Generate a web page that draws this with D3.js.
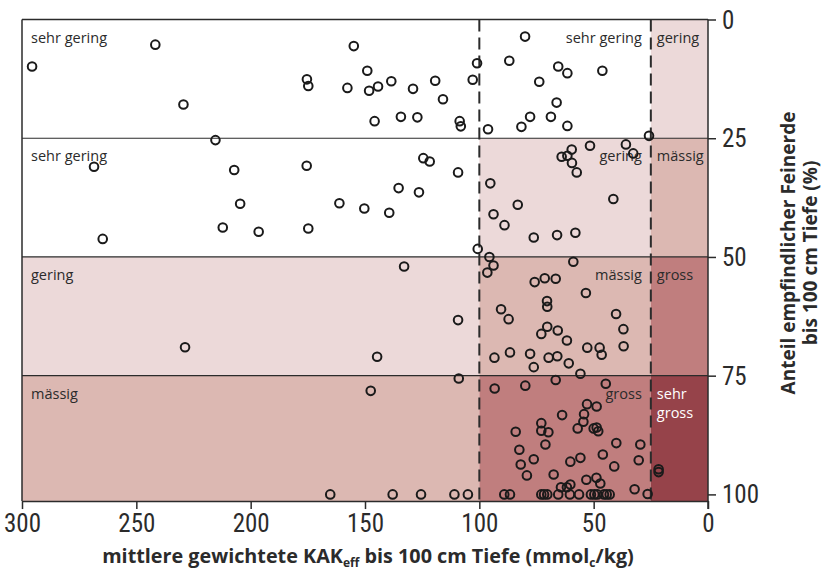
<!DOCTYPE html>
<html><head><meta charset="utf-8">
<script src="https://cdn.jsdelivr.net/npm/d3@7"></script>
<style>
body{margin:0;background:#fff;}
svg{display:block;}
</style></head>
<body>
<svg id="chart" width="822" height="571"></svg>
<script>
// ---- data ----
const ratings = ["sehr gering","gering","mässig","gross","sehr gross"];
const ratingColors = ["#ffffff","#ecd9d9","#dcb8b2","#c07e7e","#96434a"];
const kakBreaks = [300,100,25,0];         // KAK classes (x)
const feinBreaks = [0,25,50,75,101.4];    // Feinerde classes (y)
const xTicks = [300,250,200,150,100,50,0];
const yTicks = [0,25,50,75,100];

const kak = [
295.6,241.7,229.4,215.4,154.9,175.4,174.8,157.7,149.0,148.2,144.3,138.5,129.0,119.3,115.9,102.9,101.0,86.9,145.8,134.3,127.1,108.6,108.1,96.2,81.6,80.0,65.5,61.5,46.2,73.8,66.2,77.8,68.7,61.5,25.8,
268.5,207.2,204.6,212.2,196.5,264.7,175.5,124.5,121.7,109.3,135.3,126.4,161.2,150.3,139.4,174.8,95.2,83.2,93.8,89.0,100.7,95.6,59.6,64.0,61.5,59.5,57.4,51.6,35.9,32.7,76.2,66.0,58.0,41.4,
58.9,93.8,96.5,132.9,109.3,144.7,90.5,87.2,86.6,93.4,228.7,75.8,71.4,66.6,53.4,70.4,70.3,40.2,37.0,36.9,70.3,72.9,65.7,61.7,52.8,47.4,46.5,77.8,69.7,65.9,60.9,76.2,55.8,
109.0,147.5,93.3,79.9,66.6,44.7,52.9,48.7,63.8,54.2,54.5,72.9,72.9,69.8,57.0,50.0,48.7,48.0,84.1,71.1,82.5,40.1,29.6,46.0,55.8,60.2,76.2,81.9,30.3,41.0,79.2,67.5,53.2,48.8,47.1,60.2,61.7,64.3,32.1,26.4,21.6,21.6,
165.2,137.9,125.5,110.9,105.0,89.1,86.6,72.9,71.7,70.3,65.5,60.4,56.4,51.2,49.7,48.4,45.5,44.3,43.0
];
const feinerde = [
9.9,5.3,17.9,25.4,5.6,12.6,14.0,14.4,10.8,15.0,14.1,13.0,14.6,12.9,16.8,12.7,9.2,8.7,21.4,20.5,20.6,21.4,22.5,23.1,22.6,3.6,9.9,11.3,10.8,13.1,17.5,20.5,20.5,22.4,24.5,
31.0,31.7,38.8,43.8,44.7,46.2,30.8,29.2,29.9,32.2,35.5,36.4,38.7,39.8,40.7,44.0,34.5,39.0,41.0,43.3,48.3,50.0,27.4,28.9,28.7,30.2,32.2,26.6,26.3,28.2,45.9,45.4,44.9,37.8,
51.0,51.8,53.3,52.0,63.3,71.0,61.0,63.1,70.1,71.2,69.0,55.3,54.5,54.6,57.6,59.3,60.5,62.0,65.2,68.8,64.7,66.2,65.5,67.6,69.1,69.1,70.6,70.4,71.2,70.9,72.4,73.2,74.6,
75.6,78.2,77.7,77.1,75.9,76.7,81.0,81.5,83.3,83.1,84.7,85.0,86.6,86.9,86.1,86.1,85.9,86.7,86.8,89.5,90.6,89.2,89.5,91.6,92.3,93.1,92.6,93.7,92.8,94.1,96.0,95.8,96.9,96.5,97.7,97.9,98.5,98.5,98.9,99.9,94.7,95.3,
100,100,100,100,100,100,100,100,100,100,100,100,100,100,100,100,100,100,100
];

// ---- chart ----
const svg = d3.select("#chart");
const x = d3.scaleLinear().domain([300,0]).range([22,708]);
const y = d3.scaleLinear().domain([0,100]).range([19.5,494.4]);
const ink = "#2b2b2b";
const labelFont = "'Open Sans', 'Noto Sans', sans-serif";
const tickFont = "'Liberation Sans Narrow', 'Roboto Condensed', 'Liberation Sans', sans-serif";

// class cells
const cells = [];
for (let i = 0; i < 4; i++) {
  for (let j = 0; j < 3; j++) {
    const level = j === 0 ? Math.max(0, i - 1) : (j === 1 ? i : i + 1);
    cells.push({i, j, level});
  }
}
svg.append("g").selectAll("rect").data(cells).join("rect")
  .attr("x", d => x(kakBreaks[d.j]))
  .attr("width", d => x(kakBreaks[d.j+1]) - x(kakBreaks[d.j]))
  .attr("y", d => y(feinBreaks[d.i]))
  .attr("height", d => y(feinBreaks[d.i+1]) - y(feinBreaks[d.i]))
  .attr("fill", d => ratingColors[d.level]);

// horizontal class lines
svg.append("g").selectAll("line").data([25,50,75]).join("line")
  .attr("x1", x(300)).attr("x2", x(0))
  .attr("y1", d => y(d)).attr("y2", d => y(d))
  .attr("stroke", ink).attr("stroke-width", 1.2);

// dashed vertical class lines
svg.append("g").selectAll("line").data([100,25]).join("line")
  .attr("x1", d => x(d)).attr("x2", d => x(d))
  .attr("y1", y(0)).attr("y2", y(101.4))
  .attr("stroke", ink).attr("stroke-width", 2)
  .attr("stroke-dasharray", "12,6");

// cell labels
const lab = svg.append("g").attr("font-family", labelFont).attr("font-size", 14.5);
cells.forEach(d => {
  const top = y(feinBreaks[d.i]);
  const txt = ratings[d.level];
  if (d.j === 0) {
    lab.append("text").attr("x", x(300) + 9).attr("y", top + 23).attr("fill", ink).text(txt);
  } else if (d.j === 1) {
    lab.append("text").attr("x", x(25) - 9).attr("y", top + 23).attr("text-anchor", "end").attr("fill", ink).text(txt);
  } else {
    const words = d.level === 4 ? txt.split(" ") : [txt];
    words.forEach((w, k) => {
      lab.append("text").attr("x", x(25) + 6).attr("y", top + 23 + k * 19)
        .attr("fill", d.level === 4 ? "#ffffff" : ink).text(w);
    });
  }
});

// points
const pts = kak.map((v, k) => ({k: v, f: feinerde[k]}));
svg.append("g").selectAll("circle").data(pts).join("circle")
  .attr("cx", d => x(d.k)).attr("cy", d => y(d.f)).attr("r", 4.3)
  .attr("fill", "none").attr("stroke", "#1a1a1a").attr("stroke-width", 2);

// frame
svg.append("line").attr("x1", x(300)).attr("x2", x(0)).attr("y1", y(0)).attr("y2", y(0)).attr("stroke", ink).attr("stroke-width", 1.5);
svg.append("line").attr("x1", x(300)).attr("x2", x(300)).attr("y1", y(0)).attr("y2", y(101.4)).attr("stroke", ink).attr("stroke-width", 1.5);

// axes
const xAxis = svg.append("g").attr("transform", `translate(0,${y(101.4)})`)
  .call(d3.axisBottom(x).tickValues(xTicks).tickSize(8).tickSizeOuter(0).tickFormat(d3.format("d")));
xAxis.select(".domain").attr("stroke", ink).attr("stroke-width", 1.5);
xAxis.selectAll(".tick line").attr("stroke", ink).attr("stroke-width", 1.5);
xAxis.selectAll(".tick text").attr("font-family", tickFont).attr("font-size", 25)
  .attr("fill", ink).attr("dy", 0).attr("y", 31);

const yAxis = svg.append("g").attr("transform", `translate(${x(0)},0)`)
  .call(d3.axisRight(y).tickValues(yTicks).tickSize(8).tickSizeOuter(0).tickFormat(d3.format("d")));
yAxis.select(".domain").attr("stroke", ink).attr("stroke-width", 1.5).attr("d", `M0,${y(0)}V${y(101.4)+8}`);
yAxis.selectAll(".tick line").attr("stroke", ink).attr("stroke-width", 1.5);
yAxis.selectAll(".tick text").attr("font-family", tickFont).attr("font-size", 25)
  .attr("fill", ink).attr("x", 14).attr("dy", "0.34em");

// axis titles
const xt = svg.append("text").attr("x", 368).attr("y", 563).attr("text-anchor", "middle")
  .attr("font-family", labelFont).attr("font-weight", "bold").attr("font-size", 19.8).attr("fill", ink);
xt.append("tspan").text("mittlere gewichtete KAK");
xt.append("tspan").attr("font-size", 12).attr("dy", 4).text("eff");
xt.append("tspan").attr("dy", -4).text(" bis 100 cm Tiefe (mmol");
xt.append("tspan").attr("font-size", 12).attr("dy", 4).text("c");
xt.append("tspan").attr("dy", -4).text("/kg)");

const yt = svg.append("g").attr("transform", "translate(795,253) rotate(-90)")
  .attr("font-family", labelFont).attr("font-weight", "bold").attr("font-size", 19).attr("fill", ink)
  .attr("text-anchor", "middle");
yt.append("text").attr("x", 0).attr("y", 0).text("Anteil empfindlicher Feinerde");
yt.append("text").attr("x", 0).attr("y", 22).text("bis 100 cm Tiefe (%)");
</script>
</body></html>
